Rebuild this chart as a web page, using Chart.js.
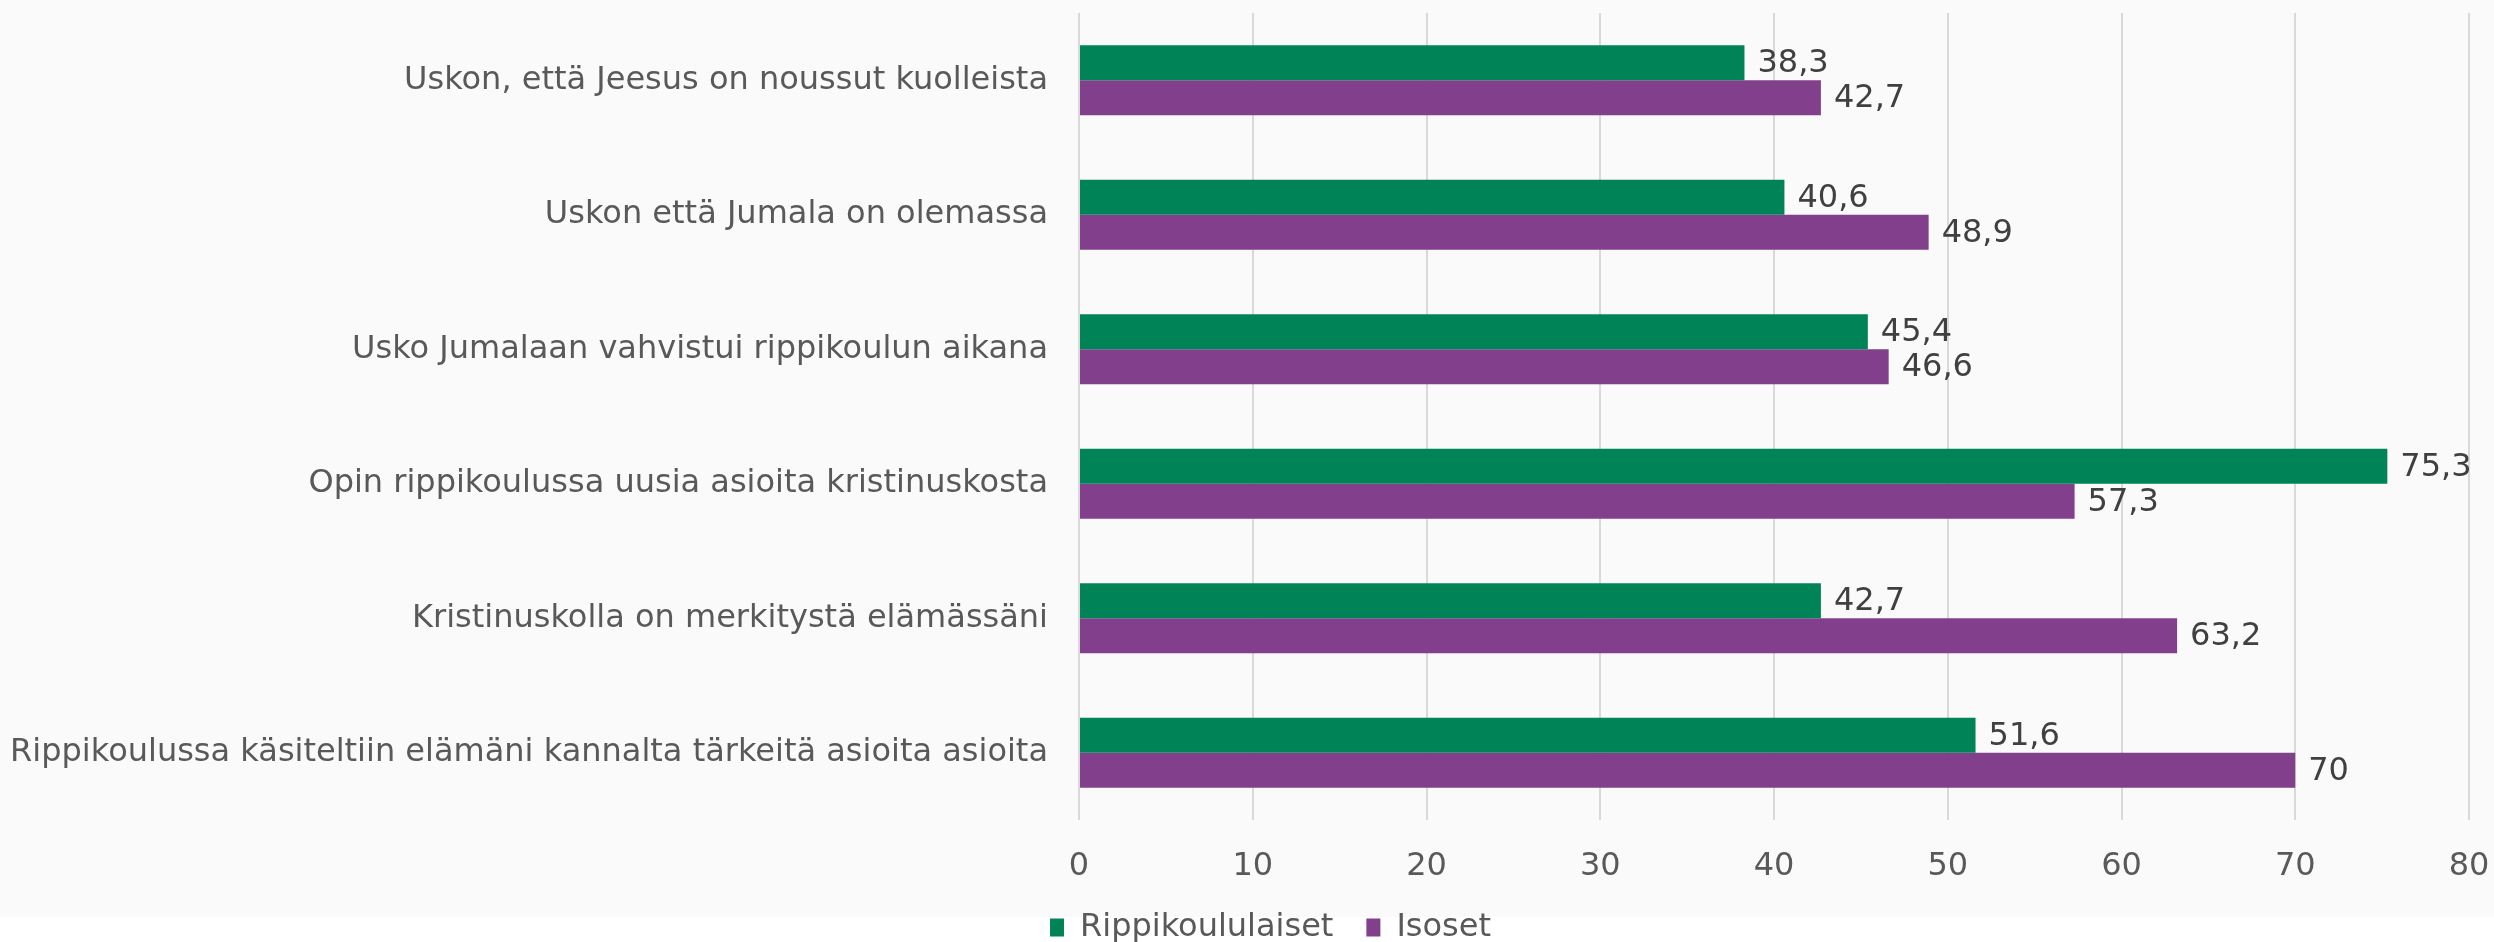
<!DOCTYPE html>
<html>
<head>
<meta charset="utf-8">
<script src="https://cdn.jsdelivr.net/npm/chart.js@4/dist/chart.umd.min.js"></script>
<style>
  html, body { margin: 0; padding: 0; background: #ffffff; }
  #wrap { width: 2494px; height: 942px; }
</style>
</head>
<body>
<div id="wrap"><canvas id="c" width="2494" height="942"></canvas></div>
<script>
const categories = [
  "Uskon, että Jeesus on noussut kuolleista",
  "Uskon että Jumala on olemassa",
  "Usko Jumalaan vahvistui rippikoulun aikana",
  "Opin rippikoulussa uusia asioita kristinuskosta",
  "Kristinuskolla on merkitystä elämässäni",
  "Rippikoulussa käsiteltiin elämäni kannalta tärkeitä asioita asioita"
];
const rippikoululaiset = [38.3, 40.6, 45.4, 75.3, 42.7, 51.6];
const isoset = [42.7, 48.9, 46.6, 57.3, 63.2, 70];
const seriesNames = ["Rippikoululaiset", "Isoset"];
const xTicks = [0, 10, 20, 30, 40, 50, 60, 70, 80];

const FONT = "'DejaVu Sans', Verdana, sans-serif";

const bgPlugin = {
  id: 'bg',
  beforeDraw(chart) {
    const ctx = chart.ctx;
    ctx.save();
    ctx.fillStyle = '#ffffff';
    ctx.fillRect(0, 0, chart.width, chart.height);
    ctx.fillStyle = '#fafafa';
    ctx.fillRect(0, 0, chart.width, 917);
    ctx.restore();
  }
};

const legendFix = {
  id: 'legendFix',
  beforeLayout(chart) {
    const lg = chart.legend;
    if (lg && !lg._patched) {
      const orig = lg.fit.bind(lg);
      lg.fit = function () { orig(); this.height = 63.5; };
      lg._patched = true;
    }
  }
};

const valueLabels = {
  id: 'valueLabels',
  afterDatasetsDraw(chart) {
    const ctx = chart.ctx;
    ctx.save();
    ctx.font = "32px " + FONT;
    ctx.fillStyle = '#404040';
    ctx.textAlign = 'left';
    ctx.textBaseline = 'middle';
    chart.data.datasets.forEach((ds, i) => {
      const meta = chart.getDatasetMeta(i);
      meta.data.forEach((bar, j) => {
        const v = ds.data[j];
        const txt = String(v).replace('.', ',');
        ctx.fillText(txt, bar.x + 13, bar.y + 1);
      });
    });
    ctx.restore();
  }
};

new Chart(document.getElementById('c'), {
  type: 'bar',
  data: {
    labels: categories,
    datasets: [
      { label: seriesNames[0], data: rippikoululaiset, backgroundColor: '#008457',
        categoryPercentage: 0.52, barPercentage: 1.0 },
      { label: seriesNames[1], data: isoset, backgroundColor: '#823f8b',
        categoryPercentage: 0.52, barPercentage: 1.0 }
    ]
  },
  options: {
    indexAxis: 'y',
    responsive: false,
    animation: false,
    devicePixelRatio: 1,
    layout: { padding: { top: 13, right: 25, left: 72, bottom: 0 } },
    scales: {
      x: {
        min: 0, max: 80,
        afterBuildTicks(scale) { scale.ticks = xTicks.map(v => ({ value: v })); },
        grid: { color: '#d9d9d9', lineWidth: 2, drawTicks: false },
        border: { display: false },
        ticks: { color: '#595959', font: { family: FONT, size: 32 }, padding: 27 },
        afterFit(scale) {
          scale.height = 58.5;
          scale.paddingLeft = 0;
          scale.paddingRight = 0;
        }
      },
      y: {
        grid: { display: false, drawTicks: false },
        border: { display: false },
        ticks: { color: '#595959', font: { family: FONT, size: 32 }, padding: 31 },
        afterFit(scale) {
          scale.width = 1079 - 72;
          scale.paddingTop = 0;
          scale.paddingBottom = 0;
          scale._computeLabelArea = function () { return undefined; };
        }
      }
    },
    plugins: {
      legend: {
        position: 'bottom',
        labels: {
          boxWidth: 14, boxHeight: 18, padding: 33,
          color: '#595959', font: { family: FONT, size: 32 }
        }
      },
      tooltip: { enabled: false }
    }
  },
  plugins: [bgPlugin, legendFix, valueLabels]
});
</script>
</body>
</html>
